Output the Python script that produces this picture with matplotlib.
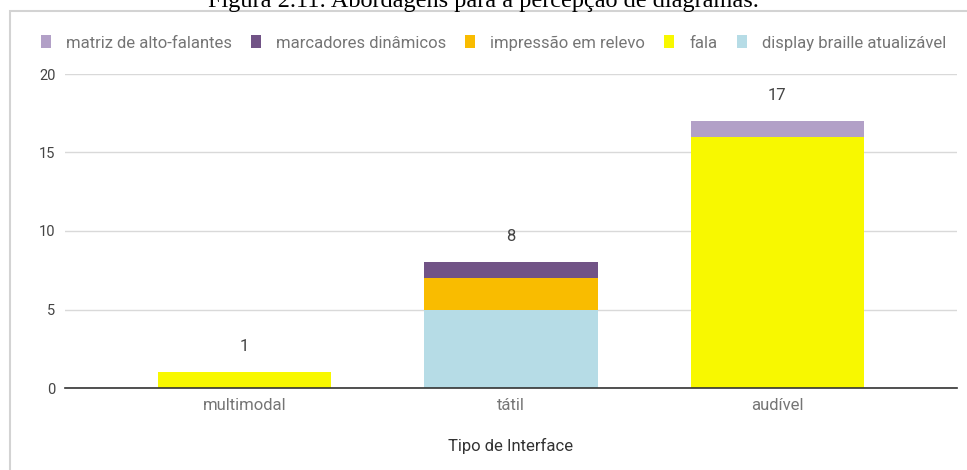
import matplotlib.pyplot as plt
from matplotlib.patches import Rectangle

categories = ['multimodal', 'tátil', 'audível']
totals = [1, 8, 17]

# stacked from the bottom up
series_names = ['display braille atualizável', 'fala', 'impressão em relevo',
                'marcadores dinâmicos', 'matriz de alto-falantes']
series_values = [
    [0, 5, 0],
    [1, 0, 16],
    [0, 2, 0],
    [0, 1, 0],
    [0, 0, 1],
]
series_colors = ['#b6dce6', '#f8f800', '#f9bc00', '#715386', '#b2a0c7']
legend_order = ['matriz de alto-falantes', 'marcadores dinâmicos',
                'impressão em relevo', 'fala', 'display braille atualizável']

plt.rcParams['font.family'] = ['Roboto', 'DejaVu Sans']

fig = plt.figure(figsize=(9.67, 4.70), dpi=100)
W, H = 967, 470
ax = fig.add_axes([65 / W, 1 - 388 / H, (957 - 65) / W, (388 - 74) / H])

x = range(len(categories))
bottom = [0] * len(categories)
handles = {}
for name, vals, col in zip(series_names, series_values, series_colors):
    b = ax.bar(x, vals, width=0.65, bottom=bottom, color=col, label=name,
               zorder=3, linewidth=0)
    handles[name] = b
    bottom = [bt + v for bt, v in zip(bottom, vals)]

for i, t in enumerate(totals):
    ax.annotate(str(t), (i, t), xytext=(0, 18.5), textcoords='offset points',
                ha='center', va='center', fontsize=12, color='#444444')

ax.set_xlim(-0.675, 2.675)
ax.set_ylim(0, 20)
ax.set_yticks([0, 5, 10, 15, 20])
ax.set_xticks(list(x))
ax.set_xticklabels(categories, color='#757575', fontsize=12)
ax.tick_params(axis='y', labelsize=10.5, labelcolor='#444444', length=0, pad=7)
ax.tick_params(axis='x', length=0, pad=7)
ax.grid(axis='y', color='#d9d9d9', linewidth=1, zorder=0)
for s in ['top', 'right', 'left']:
    ax.spines[s].set_visible(False)
ax.spines['bottom'].set_color('#333333')
ax.spines['bottom'].set_linewidth(1.2)
ax.spines['bottom'].set_zorder(4)
ax.set_xlabel('Tipo de Interface', fontsize=12, color='#333333', labelpad=18)

fig.legend([handles[n] for n in legend_order], legend_order,
           loc='center left', bbox_to_anchor=(34 / W, 1 - 43 / H), ncol=5,
           frameon=False, fontsize=12, labelcolor='#757575',
           handlelength=0.6, handleheight=0.8, handletextpad=0.9,
           columnspacing=1.15, borderaxespad=0)

# outer frame and caption above it
fig.patches.append(Rectangle((10 / W, -0.1), 1.2, 1.1 - 11 / H,
                             transform=fig.transFigure, fill=False,
                             edgecolor='#d3d3d3', linewidth=1.5))
fig.text(0.5, 1 - 7 / H, 'Figura 2.11: Abordagens para a percepção de diagramas.',
         ha='center', va='baseline', fontsize=17.5, family='Liberation Serif',
         color='#000000')

fig.savefig('out.png', dpi=100)
